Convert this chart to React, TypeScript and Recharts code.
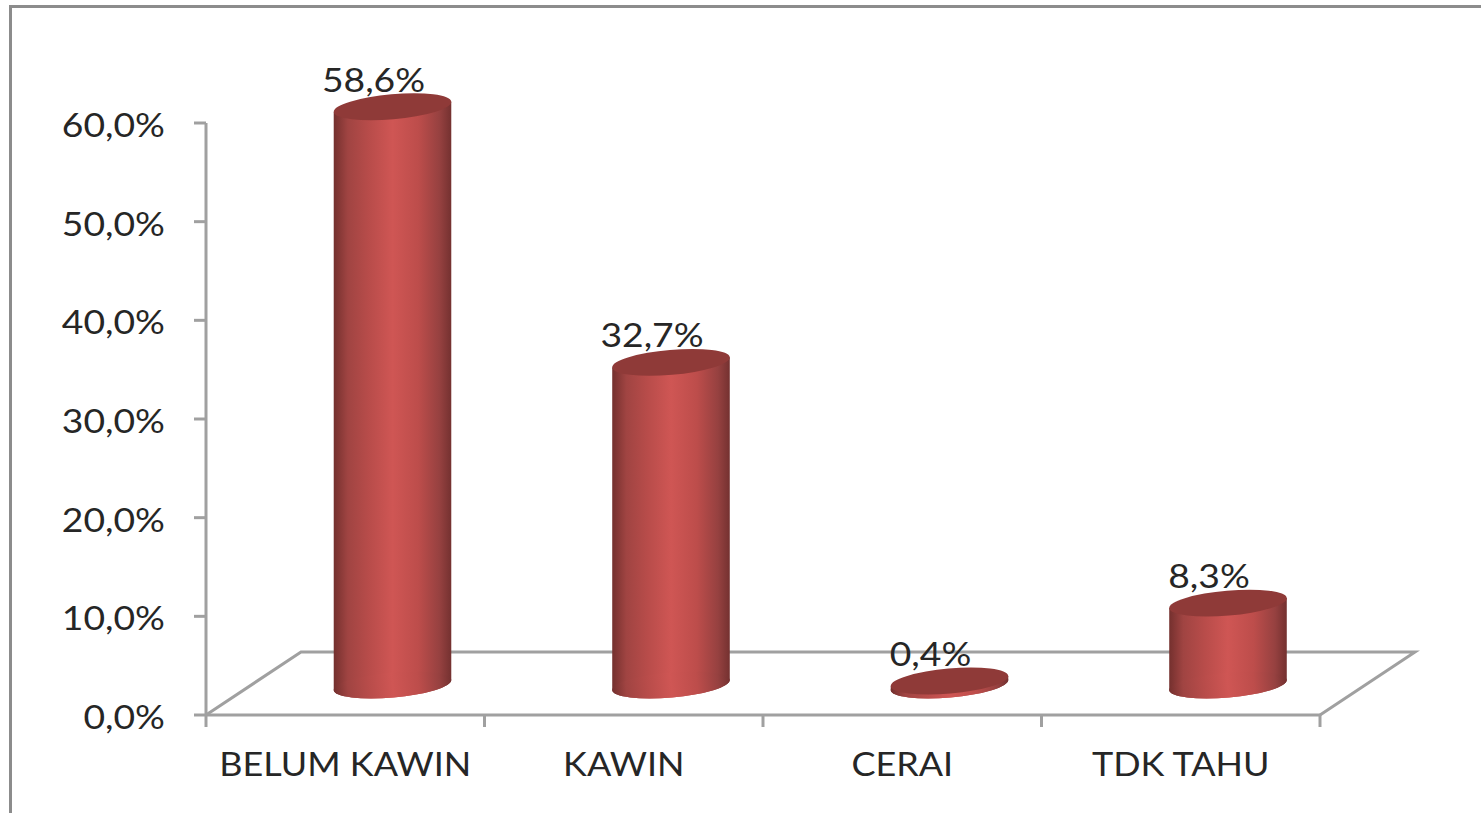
import React from "react";
import { BarChart, Bar, XAxis, YAxis, LabelList, Customized } from "recharts";

const categories = ["BELUM KAWIN", "KAWIN", "CERAI", "TDK TAHU"];
const values = [58.6, 32.7, 0.4, 8.3];
const yTicks = [0, 10, 20, 30, 40, 50, 60];
const rows = categories.map((name, i) => ({ name, value: values[i] }));

const W = 1481;
const H = 813;
const X_AXIS_H = 98;
const AXIS_W = 206;
const M = { top: 123, right: 161, bottom: 0, left: 0 };
const BAND = (W - M.right - AXIS_W) / categories.length;
const DX = 47;
const DY = -30;
const RX = 59;
const RY = 12.5;
const TILT = -5;
const GREY = "#a0a0a0";
const INK = "#262626";
const FONT = "Lato, sans-serif";
const SIZE = 33;
const NUM_STRETCH = 1.13;
const CAT_STRETCH = 1.09;

const pct = (v: number) => v.toFixed(1).replace(".", ",") + "%";

function Stretched({ x, y, sx, anchor, children }: any) {
  return (
    <text
      transform={`translate(${x} ${y}) scale(${sx} 1)`}
      textAnchor={anchor}
      dominantBaseline="central"
      fontFamily={FONT}
      fontSize={SIZE}
      fill={INK}
    >
      {children}
    </text>
  );
}

function Cylinder(props: any) {
  const { x, y, width, height } = props;
  const cx = x + width / 2 + DX;
  const top = y + DY;
  const bot = y + height + DY;
  const a = (TILT * Math.PI) / 180;
  const ox = RX * Math.cos(a);
  const oy = RX * Math.sin(a);
  const side = `M${cx - ox} ${top - oy} L${cx - ox} ${bot - oy} A${RX} ${RY} ${TILT} 0 0 ${cx + ox} ${bot + oy} L${cx + ox} ${top + oy} Z`;
  return (
    <g>
      <path d={side} fill="url(#cyl)" />
      <ellipse cx={cx} cy={bot} rx={RX} ry={RY} fill="url(#cyl)" transform={`rotate(${TILT} ${cx} ${bot})`} />
      <ellipse cx={cx} cy={top} rx={RX} ry={RY} fill="#8f3a38" transform={`rotate(${TILT} ${cx} ${top})`} />
    </g>
  );
}

function Floor() {
  const l = AXIS_W;
  const r = W - M.right;
  const b = H - X_AXIS_H;
  const dx = 95;
  const dy = 63;
  return (
    <g>
      <defs>
        <linearGradient id="cyl" x1="0" y1="0" x2="1" y2="0">
          <stop offset="0" stopColor="#74302e" />
          <stop offset="0.12" stopColor="#a04442" />
          <stop offset="0.3" stopColor="#b84c4a" />
          <stop offset="0.5" stopColor="#cf5654" />
          <stop offset="0.72" stopColor="#bd4d4b" />
          <stop offset="0.9" stopColor="#964140" />
          <stop offset="1" stopColor="#743130" />
        </linearGradient>
      </defs>
      <path
        d={`M${l} ${b} L${l + dx} ${b - dy} L${r + dx} ${b - dy} L${r} ${b}`}
        fill="none"
        stroke={GREY}
        strokeWidth={3}
      />
    </g>
  );
}

function DataLabel(props: any) {
  const { x, y, width, value } = props;
  return (
    <Stretched x={x + width / 2 + DX - 19} y={y + DY - 28} sx={NUM_STRETCH} anchor="middle">
      {pct(value)}
    </Stretched>
  );
}

function CatTick(props: any) {
  const { x, payload, index } = props;
  const axisY = H - X_AXIS_H;
  const tickEnd = axisY + 12;
  const left = x - BAND / 2;
  const right = x + BAND / 2;
  return (
    <g>
      <line x1={left} x2={left} y1={axisY} y2={tickEnd} stroke={GREY} strokeWidth={3} />
      {index === categories.length - 1 && (
        <line x1={right} x2={right} y1={axisY} y2={tickEnd} stroke={GREY} strokeWidth={3} />
      )}
      <Stretched x={x} y={axisY + 48} sx={CAT_STRETCH} anchor="middle">
        {payload.value}
      </Stretched>
    </g>
  );
}

function NumTick(props: any) {
  const { x, y, payload } = props;
  return (
    <Stretched x={x} y={y + 1} sx={NUM_STRETCH} anchor="end">
      {pct(payload.value)}
    </Stretched>
  );
}

export default function App() {
  return (
    <div style={{ position: "absolute", left: 0, top: 0, width: W, height: H, overflow: "hidden", background: "#fff" }}>
      <div
        style={{
          position: "absolute",
          left: 9,
          top: 5,
          right: -10,
          bottom: -10,
          borderLeft: "3px solid #8c8c8c",
          borderTop: "3px solid #8c8c8c",
        }}
      />
      <div style={{ position: "absolute", left: 0, top: 0 }}>
        <BarChart width={W} height={H} data={rows} margin={M} barSize={117}>
          <Customized component={Floor} />
          <XAxis
            dataKey="name"
            height={X_AXIS_H}
            interval={0}
            tick={<CatTick />}
            tickLine={false}
            axisLine={{ stroke: GREY, strokeWidth: 3 }}
          />
          <YAxis
            width={AXIS_W}
            domain={[0, 60]}
            ticks={yTicks}
            tick={<NumTick />}
            tickSize={12}
            tickMargin={29}
            tickLine={{ stroke: GREY, strokeWidth: 3 }}
            axisLine={{ stroke: GREY, strokeWidth: 3 }}
          />
          <Bar dataKey="value" shape={<Cylinder />} isAnimationActive={false}>
            <LabelList dataKey="value" content={<DataLabel />} />
          </Bar>
        </BarChart>
      </div>
    </div>
  );
}
